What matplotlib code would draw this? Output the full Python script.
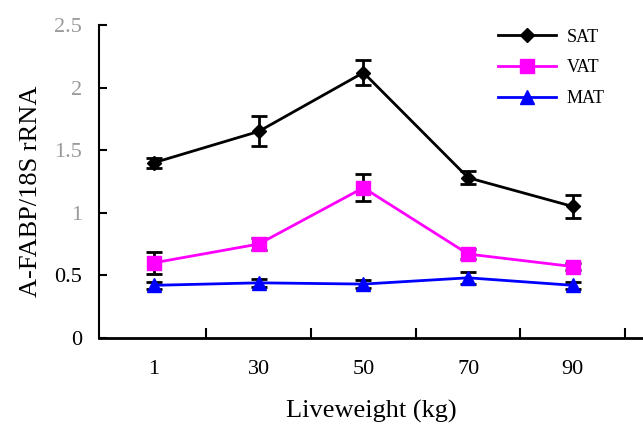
import matplotlib.pyplot as plt
from matplotlib.lines import Line2D
import numpy as np

# liveweight groups and expression ratios
weights = ["1", "30", "50", "70", "90"]
sat = [1.40, 1.65, 2.12, 1.28, 1.05]
sat_err = [0.04, 0.12, 0.10, 0.05, 0.09]
vat = [0.60, 0.75, 1.20, 0.67, 0.57]
vat_err = [0.09, 0.05, 0.11, 0.04, 0.03]
mat = [0.42, 0.44, 0.43, 0.48, 0.42]
mat_err = [0.03, 0.03, 0.03, 0.05, 0.03]
yticks = [0, 0.5, 1, 1.5, 2, 2.5]
ytick_labels = ["0", "0.5", "1", "1.5", "2", "2.5"]

plt.rcParams['font.family'] = ['Liberation Serif', 'DejaVu Serif']

fig = plt.figure(figsize=(6.43, 4.25), dpi=100)
ax = fig.add_axes([0.154, 0.205, 0.846, 0.736])

x = np.arange(len(weights))

series = [("SAT", sat, sat_err, 'black', 'D', 7),
          ("VAT", vat, vat_err, '#ff00ff', 's', 10),
          ("MAT", mat, mat_err, '#0000ff', '^', 10)]

handles = []
for name, vals, err, col, mk, ms in series:
    ax.errorbar(x, vals, yerr=err, color=col, marker=mk, markersize=ms,
                linewidth=2, ecolor='black', elinewidth=2, capsize=6, capthick=2,
                zorder=3)
    handles.append(Line2D([], [], color=col, marker=mk, markersize=ms,
                          linewidth=2, label=name))

ax.set_xlim(-0.525, 4.67)
ax.set_ylim(0, 2.5)

# x ticks sit between groups, labels centred on groups
ax.set_xticks(x + 0.5)
ax.set_xticklabels([])
ax.set_xticks(x, minor=True)
ax.set_xticklabels(weights, minor=True, fontsize=16)
ax.tick_params(axis='x', which='minor', length=0, pad=16)
ax.tick_params(axis='x', which='major', direction='in', length=7, width=1.5)

ax.set_yticks(yticks)
ax.set_yticklabels(ytick_labels, fontsize=16)
ax.tick_params(axis='y', direction='in', length=6, width=1.5, pad=12)
for lab in ax.get_yticklabels():
    if lab.get_text() not in ("0", "0.5"):
        lab.set_color('#9a9a9a')

for s in ['top', 'right']:
    ax.spines[s].set_visible(False)
ax.spines['left'].set_linewidth(1.5)
ax.spines['bottom'].set_linewidth(2)

ax.set_xlabel('Liveweight (kg)', fontsize=19, labelpad=15)
ax.set_ylabel('A-FABP/18S rRNA', fontsize=19)
ax.yaxis.set_label_coords(-0.105, 0.47)

ax.legend(handles=handles, loc='upper right', bbox_to_anchor=(0.96, 1.04),
          frameon=False, fontsize=13, handlelength=3.2, labelspacing=0.75,
          handletextpad=0.6)

fig.savefig('out.png', dpi=100)
